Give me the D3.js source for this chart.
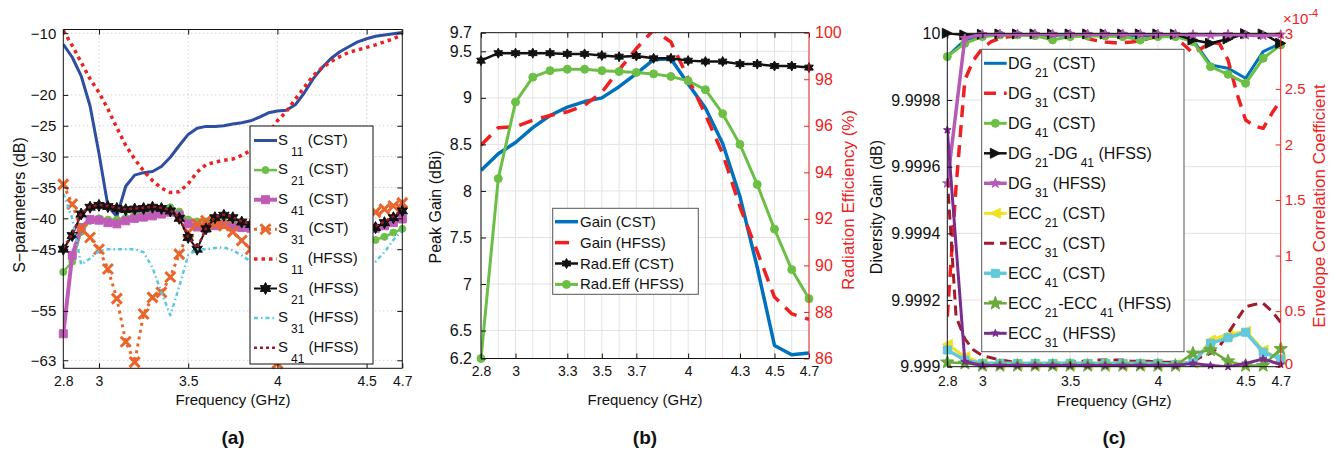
<!DOCTYPE html>
<html>
<head>
<meta charset="utf-8">
<script src="https://cdn.jsdelivr.net/npm/d3@7"></script>
<style>
body { margin: 0; background: #fff; }
svg { font-family: "Liberation Sans", Arial, sans-serif; }
</style>
</head>
<body>
<script>
//Frequency grids (GHz)
var freqA = [2.8, 2.85, 2.9, 2.95, 3.0, 3.05, 3.1, 3.15, 3.2, 3.25, 3.3, 3.35, 3.4, 3.45, 3.5, 3.55, 3.6, 3.65, 3.7, 3.75,
             3.8, 3.85, 3.9, 3.95, 4.0, 4.05, 4.1, 4.15, 4.2, 4.25, 4.3, 4.35, 4.4, 4.45, 4.5, 4.55, 4.6, 4.65, 4.7];
var freqB = [2.8, 2.9, 3.0, 3.1, 3.2, 3.3, 3.4, 3.5, 3.6, 3.7, 3.8, 3.9, 4.0, 4.1, 4.2, 4.3, 4.4, 4.5, 4.6, 4.7];

//(a) S-parameters (dB), on freqA
var s11Cst = [-11.8, -13.9, -16.9, -21.8, -29.5, -38.0, -39.7, -34.8, -33.0, -32.6, -32.4, -31.6, -30.1, -28.2, -26.4, -25.4, -25.1, -25.1, -25.0, -24.7,
              -24.5, -24.2, -23.6, -22.9, -22.6, -22.5, -21.6, -19.7, -17.4, -15.6, -14.1, -13.0, -12.2, -11.4, -10.9, -10.5, -10.3, -10.1, -9.9];
var s21Cst = [-48.7, -47.0, -42.2, -40.4, -40.0, -40.2, -40.2, -39.9, -39.5, -39.2, -38.9, -38.6, -38.2, -38.9, -40.2, -40.5, -40.5, -40.6, -40.6, -40.7,
              -40.8, -41.0, -41.3, -41.6, -41.9, -42.2, -42.4, -42.6, -42.8, -43.0, -43.2, -43.4, -43.6, -43.7, -43.7, -43.5, -43.0, -42.3, -41.7];
var s41Cst = [-58.7, -46.0, -41.5, -40.2, -40.3, -40.7, -40.9, -40.4, -40.0, -39.8, -39.6, -39.3, -39.0, -39.5, -40.9, -41.4, -41.6, -41.2, -41.0, -41.4,
              -41.5, -41.6, -41.7, -41.8, -41.9, -42.0, -42.0, -42.0, -42.0, -41.9, -41.8, -41.8, -41.8, -41.8, -41.7, -41.6, -41.2, -40.7, -40.1];
var s31Cst = [-34.5, -37.7, -41.7, -43.1, -45.0, -48.2, -53.0, -60.0, -63.3, -55.5, -52.8, -52.0, -49.5, -45.8, -42.3, -40.9, -40.4, -40.9, -41.2, -42.2,
              -43.6, -45.0, -48.0, -55.0, -63.5, -57.0, -52.0, -48.0, -45.0, -43.0, -41.5, -40.5, -40.0, -39.5, -39.3, -39.0, -38.5, -38.0, -37.5];
var s11Hfss = [-9.6, -12.0, -14.7, -17.4, -19.6, -22.3, -25.3, -28.2, -30.4, -32.3, -33.9, -35.1, -35.8, -35.7, -34.4, -32.5, -31.3, -30.9, -30.6, -30.4,
               -29.8, -29.0, -28.0, -26.3, -24.2, -22.7, -20.7, -18.8, -16.9, -15.6, -14.6, -13.8, -13.1, -12.7, -12.3, -11.9, -11.4, -10.9, -10.2];
var s21Hfss = [-45.0, -42.8, -39.3, -38.2, -37.9, -38.1, -38.4, -38.6, -38.5, -38.4, -38.2, -38.4, -38.8, -40.0, -43.1, -45.0, -41.7, -39.9, -39.5, -39.9,
               -40.6, -41.0, -41.3, -41.5, -41.7, -41.8, -41.9, -42.0, -42.0, -42.0, -42.0, -41.9, -41.8, -41.7, -41.6, -41.5, -40.7, -39.9, -38.8];
var s31Hfss = [-36.0, -40.0, -47.5, -46.5, -45.3, -45.0, -45.0, -45.0, -45.0, -45.5, -48.0, -52.0, -55.7, -51.0, -46.0, -45.0, -45.0, -44.8, -44.7, -45.2,
               -46.0, -47.0, -47.5, -47.8, -48.0, -48.2, -48.3, -48.3, -48.3, -48.2, -48.2, -48.1, -48.0, -48.0, -47.8, -47.0, -45.5, -43.5, -42.0];
var s41Hfss = [-44.8, -42.6, -39.2, -38.1, -37.8, -38.0, -38.3, -38.5, -38.4, -38.3, -38.1, -38.3, -38.7, -39.9, -43.0, -44.8, -41.6, -39.8, -39.4, -39.8,
               -40.5, -40.9, -41.2, -41.4, -41.6, -41.7, -41.8, -41.9, -41.9, -41.9, -41.9, -41.8, -41.7, -41.6, -41.5, -41.3, -40.5, -39.7, -38.6];
var ticksA = [-63, -55, -45, -40, -35, -30, -25, -20, -10];
var xticksA = [2.8, 3, 3.5, 4, 4.5, 4.7];

//(b) peak gain (dBi) and radiation efficiency (%), on freqB
var gainCst = [8.22, 8.40, 8.52, 8.68, 8.81, 8.90, 8.96, 9.00, 9.12, 9.26, 9.41, 9.42, 9.15, 8.89, 8.51, 7.94, 7.18, 6.34, 6.24, 6.26];
var gainHfss = [8.49, 8.68, 8.69, 8.76, 8.81, 8.85, 8.92, 9.06, 9.30, 9.53, 9.73, 9.60, 9.21, 8.82, 8.40, 7.83, 7.35, 6.86, 6.68, 6.62];
var radEffCst = [98.8, 99.12, 99.12, 99.12, 99.12, 99.09, 99.09, 99.02, 98.97, 99.0, 98.9, 98.9, 98.8, 98.76, 98.76, 98.65, 98.65, 98.57, 98.57, 98.5];
var radEffHfss = [86.0, 93.73, 97.02, 98.09, 98.37, 98.43, 98.43, 98.37, 98.33, 98.29, 98.23, 98.12, 97.93, 97.55, 96.52, 95.2, 93.48, 91.56, 89.82, 88.57];
var ticksGain = [6.2, 6.5, 7, 7.5, 8, 8.5, 9, 9.5, 9.7];
var ticksEff = [86, 88, 90, 92, 94, 96, 98, 100];
var xticksB = [2.8, 3, 3.3, 3.5, 3.7, 4, 4.3, 4.5, 4.7];

//(c) diversity gain (dB) on freqB, except DG31/ECC31 CST on freqA; ECC in units of 1e-4
var dg21Cst = [9.99993, 9.99998, 9.999992, 9.999995, 9.999995, 9.999995, 9.999994, 9.999995, 9.999995, 9.999995,
               9.999995, 9.999993, 9.999993, 9.999992, 9.99998, 9.999905, 9.999895, 9.999865, 9.999945, 9.99997];
var dg31Cst = [9.99915, 9.99954, 9.99986, 9.99992, 9.999955, 9.999975, 9.999985, 9.99999, 9.999992, 9.999994, 9.999995, 9.999995, 9.999995,
               9.999995, 9.999994, 9.99999, 9.999984, 9.999978, 9.999974, 9.999972, 9.999972, 9.999974, 9.999978, 9.999985, 9.999992, 9.999994,
               9.999988, 9.999965, 9.99994, 9.999955, 9.999972, 9.99997, 9.99992, 9.99982, 9.99974, 9.999722, 9.999715, 9.99976, 9.9998];
var dg41Cst = [9.99993, 9.99997, 9.99999, 9.999995, 9.999995, 9.999993, 9.99998, 9.99999, 9.999992, 9.999992,
               9.99999, 9.99998, 9.99999, 9.99999, 9.999975, 9.9999, 9.999877, 9.99985, 9.999925, 9.999965];
var dgDiffHfss = [10.0, 9.999995, 9.999997, 9.999998, 9.999998, 9.999998, 9.999998, 9.999998, 9.999998, 9.999998,
                  9.999998, 9.999998, 9.999998, 9.999997, 9.99998, 9.99997, 9.999983, 9.999999, 9.999998, 9.99997];
var dg31Hfss = [9.99955, 9.999985, 9.999997, 9.999998, 9.999998, 9.999998, 9.999998, 9.999998, 9.999998, 9.999998,
                9.999998, 9.999998, 9.999998, 9.999998, 9.999996, 9.999995, 9.999997, 9.999995, 9.999993, 9.999996];
var ecc21Cst = [0.20, 0.09, 0.03, 0.02, 0.02, 0.02, 0.02, 0.02, 0.02, 0.02, 0.02, 0.02, 0.02, 0.02, 0.03, 0.24, 0.29, 0.32, 0.15, 0.06];
var ecc31Cst = [1.7, 0.45, 0.25, 0.15, 0.10, 0.08, 0.06, 0.05, 0.03, 0.02, 0.02, 0.03, 0.03, 0.03, 0.04, 0.05, 0.05, 0.06, 0.06, 0.06,
                0.06, 0.05, 0.05, 0.05, 0.04, 0.04, 0.04, 0.03, 0.05, 0.09, 0.12, 0.18, 0.30, 0.42, 0.54, 0.56, 0.57, 0.50, 0.40];
var ecc41Cst = [0.15, 0.06, 0.03, 0.03, 0.03, 0.03, 0.03, 0.03, 0.03, 0.03, 0.03, 0.03, 0.03, 0.02, 0.04, 0.21, 0.26, 0.31, 0.13, 0.07];
var eccDiffHfss = [0.04, 0.03, 0.01, 0.01, 0.01, 0.01, 0.01, 0.01, 0.01, 0.01, 0.01, 0.01, 0.01, 0.01, 0.12, 0.15, 0.05, 0.01, 0.01, 0.16];
var ecc31Hfss = [2.13, 0.045, 0.01, 0.01, 0.01, 0.01, 0.01, 0.01, 0.01, 0.01, 0.01, 0.01, 0.01, 0.01, 0.03, 0.01, 0.0, 0.03, 0.07, 0.02];
var ticksDG = [9.999, 9.9992, 9.9994, 9.9996, 9.9998, 10];
var ticksEcc = [0, 0.5, 1, 1.5, 2, 2.5, 3];
var xticksC = [2.8, 3, 3.5, 4, 4.5, 4.7];

var RED = '#ee2222';

var svg = d3.select('body').append('svg')
    .attr('width', 1338)
    .attr('height', 456);

////////////////////////////////////////////
/////////////// helpers ////////////////////
////////////////////////////////////////////
function markerPath(t, r) {
    var p = [], i, a, rr;
    if (t === 'circle') return d3.symbol(d3.symbolCircle, Math.PI * r * r)();
    if (t === 'square') return 'M' + (-r) + ',' + (-r) + 'h' + 2 * r + 'v' + 2 * r + 'h' + (-2 * r) + 'Z';
    if (t === 'x') return 'M' + (-r) + ',' + (-r) + 'L' + r + ',' + r + 'M' + (-r) + ',' + r + 'L' + r + ',' + (-r);
    if (t === 'triL') return 'M' + (-r) + ',0L' + r + ',' + (-r) + 'L' + r + ',' + r + 'Z';
    if (t === 'triR') return 'M' + r + ',0L' + (-r) + ',' + (-r) + 'L' + (-r) + ',' + r + 'Z';
    var n = t === 'hex' ? 6 : 5, inner = t === 'hex' ? 0.55 : 0.42;
    for (i = 0; i < 2 * n; i++) {
        a = Math.PI / n * i - Math.PI / 2;
        rr = i % 2 ? r * inner : r;
        p.push((rr * Math.cos(a)).toFixed(2) + ',' + (rr * Math.sin(a)).toFixed(2));
    }
    return 'M' + p.join('L') + 'Z';
}

function drawMarkers(g, pts, st) {
    g.selectAll(null).data(pts).enter().append('path')
        .attr('transform', function(d) { return 'translate(' + d[0] + ',' + d[1] + ')'; })
        .attr('d', markerPath(st.marker, st.ms))
        .attr('fill', st.marker === 'x' ? 'none' : st.color)
        .attr('stroke', st.color)
        .attr('stroke-width', st.marker === 'x' ? 3 : 1);
}

function plotSeries(p, xs, ys, st, yScale) {
    var ysc = yScale || p.y;
    var pts = xs.map(function(f, i) { return [p.x(f), ysc(ys[i])]; });
    p.g.append('path')
        .attr('clip-path', p.clip)
        .attr('d', d3.line()(pts))
        .attr('fill', 'none')
        .attr('stroke', st.color)
        .attr('stroke-width', st.w)
        .attr('stroke-dasharray', st.dash || null)
        .attr('stroke-linejoin', 'round');
    if (st.marker) drawMarkers(p.g, pts, st);
}

function makePanel(id, box, xDom, yDom) {
    var g = svg.append('g');
    g.append('clipPath').attr('id', 'clip' + id).append('rect')
        .attr('x', box.l).attr('y', box.t)
        .attr('width', box.r - box.l).attr('height', box.b - box.t);
    return {
        g: g, box: box, clip: 'url(#clip' + id + ')',
        x: d3.scaleLinear().domain(xDom).range([box.l, box.r]),
        y: d3.scaleLinear().domain(yDom).range([box.b, box.t])
    };
}

function grid(p, xv, yv, color, dash) {
    var gg = p.g.append('g').attr('stroke', color).attr('stroke-width', 1).attr('stroke-dasharray', dash || null);
    gg.selectAll(null).data(xv).enter().append('line')
        .attr('x1', function(d) { return p.x(d); }).attr('x2', function(d) { return p.x(d); })
        .attr('y1', p.box.t).attr('y2', p.box.b);
    gg.selectAll(null).data(yv).enter().append('line')
        .attr('y1', function(d) { return p.y(d); }).attr('y2', function(d) { return p.y(d); })
        .attr('x1', p.box.l).attr('x2', p.box.r);
}

function styleAxis(sel, color, fs) {
    sel.select('.domain').remove();
    sel.selectAll('.tick line').attr('stroke', color);
    sel.selectAll('.tick text').attr('fill', color).attr('font-size', fs)
        .attr('font-family', '"Liberation Sans", Arial, sans-serif');
}

function axes(p, o) {
    var b = p.box, fmt = o.fmt || function(d) { return String(d); };
    var xa = p.g.append('g').attr('transform', 'translate(0,' + b.b + ')')
        .call(d3.axisBottom(p.x).tickValues(o.xt).tickSize(-5).tickSizeOuter(0).tickPadding(o.xpad || 8)
            .tickFormat(function(d) { return String(d); }));
    styleAxis(xa, '#111', o.xfs);
    var xt = p.g.append('g').attr('transform', 'translate(0,' + b.t + ')')
        .call(d3.axisTop(p.x).tickValues(o.xt).tickSize(-5).tickSizeOuter(0).tickFormat(''));
    styleAxis(xt, '#111', o.xfs);
    var ya = p.g.append('g').attr('transform', 'translate(' + b.l + ',0)')
        .call(d3.axisLeft(p.y).tickValues(o.yt).tickSize(-5).tickSizeOuter(0).tickPadding(o.ypad || 7).tickFormat(fmt));
    styleAxis(ya, '#111', o.yfs);
    var rc = o.y2 ? RED : '#111';
    var ra = p.g.append('g').attr('transform', 'translate(' + b.r + ',0)');
    if (o.y2) {
        ra.call(d3.axisRight(o.y2).tickValues(o.y2t).tickSize(-5).tickSizeOuter(0).tickPadding(o.y2pad || 6)
            .tickFormat(function(d) { return String(d); }));
    } else {
        ra.call(d3.axisRight(p.y).tickValues(o.yt).tickSize(-5).tickSizeOuter(0).tickFormat(''));
    }
    styleAxis(ra, rc, o.y2fs || o.yfs);
    var fr = p.g.append('g').attr('fill', 'none').attr('stroke-width', 1);
    fr.append('path').attr('stroke', '#111')
        .attr('d', 'M' + b.r + ',' + b.t + 'H' + b.l + 'V' + b.b + 'H' + b.r);
    fr.append('path').attr('stroke', rc).attr('d', 'M' + b.r + ',' + b.t + 'V' + b.b);
    return ra;
}

function vLabel(x, y, txt, fs, color) {
    svg.append('text')
        .attr('transform', 'translate(' + x + ',' + y + ') rotate(-90)')
        .attr('text-anchor', 'middle')
        .attr('font-size', fs)
        .attr('fill', color || '#111')
        .text(txt);
}

function hLabel(x, y, txt, fs, bold) {
    svg.append('text')
        .attr('x', x).attr('y', y)
        .attr('text-anchor', 'middle')
        .attr('font-size', fs)
        .attr('font-weight', bold ? 'bold' : null)
        .attr('fill', '#111')
        .text(txt);
}

//label markup: "DG_{21} (CST)" puts 21 as subscript
function legend(box, rows, items, o) {
    var g = svg.append('g');
    g.append('rect')
        .attr('x', box.l).attr('y', box.t)
        .attr('width', box.r - box.l).attr('height', box.b - box.t)
        .attr('fill', '#fff').attr('stroke', o.border).attr('stroke-width', 1);
    items.forEach(function(it, k) {
        var yy = rows.y0 + k * rows.dy, st = it.st;
        g.append('line')
            .attr('x1', o.sx1).attr('x2', o.sx2).attr('y1', yy).attr('y2', yy)
            .attr('stroke', st.color).attr('stroke-width', st.w)
            .attr('stroke-dasharray', st.dash || null);
        if (st.marker) drawMarkers(g, [[(o.sx1 + o.sx2) / 2, yy]], st);
        var t = g.append('text').attr('x', o.tx).attr('y', yy + o.base)
            .attr('font-size', o.fs).attr('fill', '#111');
        var parts = it.label.split(/_\{([^}]*)\}/);
        parts.forEach(function(s, i) {
            if (!s) return;
            var sub = i % 2 === 1;
            t.append('tspan').text(s)
                .attr('font-size', sub ? o.subFs : o.fs)
                .attr('dx', sub ? 3 : 0)
                .attr('dy', sub ? o.subDy : (i > 0 ? -o.subDy : 0));
        });
    });
}

////////////////////////////////////////////
/////////////// panel (a) //////////////////
////////////////////////////////////////////
var stA = {
    s11Cst: { color: '#2f4ea0', w: 3 },
    s21Cst: { color: '#6cc04a', w: 2.5, marker: 'circle', ms: 3.5 },
    s41Cst: { color: '#c05cb8', w: 4, marker: 'square', ms: 4 },
    s31Cst: { color: '#e8662c', w: 3, dash: '3,4', marker: 'x', ms: 5 },
    s11Hfss: { color: '#ee2020', w: 3.5, dash: '3.5,4' },
    s21Hfss: { color: '#111', w: 2, marker: 'hex', ms: 6 },
    s31Hfss: { color: '#5cc8e0', w: 2.5, dash: '4,3,1.5,3' },
    s41Hfss: { color: '#9e1a2e', w: 2.5, dash: '3,3' }
};
var pa = makePanel('a', { l: 63.3, r: 402.3, t: 29.5, b: 368.3 }, [2.8, 4.7], [-64.3, -9.4]);
grid(pa, [3, 3.5, 4, 4.5], ticksA, '#bdbdbd', '1,3');
plotSeries(pa, freqA, s11Cst, stA.s11Cst);
plotSeries(pa, freqA, s21Cst, stA.s21Cst);
plotSeries(pa, freqA, s41Cst, stA.s41Cst);
plotSeries(pa, freqA, s31Cst, stA.s31Cst);
plotSeries(pa, freqA, s11Hfss, stA.s11Hfss);
plotSeries(pa, freqA, s21Hfss, stA.s21Hfss);
plotSeries(pa, freqA, s31Hfss, stA.s31Hfss);
plotSeries(pa, freqA, s41Hfss, stA.s41Hfss);
axes(pa, { xt: xticksA, yt: ticksA, xfs: 14, yfs: 15, fmt: function(d) { return String(d).replace('-', '\u2212'); } });
legend({ l: 250, r: 373, t: 126, b: 364 }, { y0: 140.5, dy: 29.6 }, [
    { label: 'S_{11} (CST)', st: stA.s11Cst },
    { label: 'S_{21} (CST)', st: stA.s21Cst },
    { label: 'S_{41} (CST)', st: stA.s41Cst },
    { label: 'S_{31} (CST)', st: stA.s31Cst },
    { label: 'S_{11} (HFSS)', st: stA.s11Hfss },
    { label: 'S_{21} (HFSS)', st: stA.s21Hfss },
    { label: 'S_{31} (HFSS)', st: stA.s31Hfss },
    { label: 'S_{41} (HFSS)', st: stA.s41Hfss }
], { border: '#111', sx1: 254, sx2: 277, tx: 278, base: 4, fs: 15, subFs: 12, subDy: 11 });
vLabel(25, 205, 'S\u2212parameters (dB)', 16);
hLabel(233, 405, 'Frequency (GHz)', 15);
hLabel(233, 444, '(a)', 19, true);

////////////////////////////////////////////
/////////////// panel (b) //////////////////
////////////////////////////////////////////
var stB = {
    gainCst: { color: '#0072bd', w: 3.5 },
    gainHfss: { color: '#ee2020', w: 3.5, dash: '14,9' },
    radEffCst: { color: '#111', w: 2.5, marker: 'hex', ms: 5 },
    radEffHfss: { color: '#6cbf45', w: 3, marker: 'circle', ms: 4 }
};
var pb = makePanel('b', { l: 481, r: 809, t: 32.7, b: 358.5 }, [2.8, 4.7], [6.2, 9.7]);
var effY = d3.scaleLinear().domain([86, 100]).range([358.5, 32.7]);
grid(pb, freqB, ticksGain.slice(1, -1), '#e3e3e3');
plotSeries(pb, freqB, gainCst, stB.gainCst);
plotSeries(pb, freqB, gainHfss, stB.gainHfss);
plotSeries(pb, freqB, radEffCst, stB.radEffCst, effY);
plotSeries(pb, freqB, radEffHfss, stB.radEffHfss, effY);
axes(pb, { xt: xticksB, yt: ticksGain, xfs: 14, yfs: 16, ypad: 9, y2: effY, y2t: ticksEff, y2pad: 6 });
legend({ l: 552.7, r: 698.3, t: 208.3, b: 294.3 }, { y0: 221.7, dy: 20.9 }, [
    { label: 'Gain (CST)', st: stB.gainCst },
    { label: 'Gain (HFSS)', st: stB.gainHfss },
    { label: 'Rad.Eff (CST)', st: stB.radEffCst },
    { label: 'Rad.Eff (HFSS)', st: stB.radEffHfss }
], { border: '#555', sx1: 555, sx2: 578, tx: 580, base: 5, fs: 15, subFs: 12, subDy: 8 });
vLabel(441, 207, 'Peak Gain (dBi)', 16);
vLabel(854, 200, 'Radiation Efficiency (%)', 17, RED);
hLabel(645, 405, 'Frequency (GHz)', 15);
hLabel(645, 444, '(b)', 19, true);

////////////////////////////////////////////
/////////////// panel (c) //////////////////
////////////////////////////////////////////
var stC = {
    dg21Cst: { color: '#0072bd', w: 3 },
    dg31Cst: { color: '#ee2020', w: 3.5, dash: '12,8' },
    dg41Cst: { color: '#6cbf45', w: 3, marker: 'circle', ms: 4 },
    dgDiffHfss: { color: '#111', w: 2.5, marker: 'triR', ms: 5 },
    dg31Hfss: { color: '#b45cb4', w: 3.5, marker: 'star', ms: 5 },
    ecc21Cst: { color: '#f0e020', w: 3, marker: 'triL', ms: 5 },
    ecc31Cst: { color: '#a01c2c', w: 3, dash: '10,6' },
    ecc41Cst: { color: '#62c8dc', w: 3.5, marker: 'square', ms: 4 },
    eccDiffHfss: { color: '#6aaa3c', w: 2.5, marker: 'star', ms: 7 },
    ecc31Hfss: { color: '#7b2d8e', w: 3, marker: 'star', ms: 4 }
};
var pc = makePanel('c', { l: 947.3, r: 1280.7, t: 33.3, b: 366.7 }, [2.8, 4.7], [9.999, 10]);
var eccY = d3.scaleLinear().domain([0, 3]).range([366.7, 33.3]);
grid(pc, [3, 3.5, 4, 4.5], ticksDG.slice(1, -1), '#e3e3e3');
plotSeries(pc, freqB, dg21Cst, stC.dg21Cst);
plotSeries(pc, freqA, dg31Cst, stC.dg31Cst);
plotSeries(pc, freqB, dg41Cst, stC.dg41Cst);
plotSeries(pc, freqB, dgDiffHfss, stC.dgDiffHfss);
plotSeries(pc, freqB, dg31Hfss, stC.dg31Hfss);
plotSeries(pc, freqB, ecc21Cst, stC.ecc21Cst, eccY);
plotSeries(pc, freqA, ecc31Cst, stC.ecc31Cst, eccY);
plotSeries(pc, freqB, ecc41Cst, stC.ecc41Cst, eccY);
plotSeries(pc, freqB, eccDiffHfss, stC.eccDiffHfss, eccY);
plotSeries(pc, freqB, ecc31Hfss, stC.ecc31Hfss, eccY);
var raC = axes(pc, { xt: xticksC, yt: ticksDG, xfs: 14, xpad: 9, yfs: 16, y2fs: 15, ypad: 7, y2: eccY, y2t: ticksEcc, y2pad: 4 });
//lift the bottom "0" a little so it clears the 4.7 label
raC.selectAll('.tick text').filter(function(d) { return d === 0; }).attr('dy', '0.1em');
legend({ l: 981.7, r: 1184, t: 49.3, b: 351.7 }, { y0: 63.3, dy: 30 }, [
    { label: 'DG_{21} (CST)', st: stC.dg21Cst },
    { label: 'DG_{31} (CST)', st: stC.dg31Cst },
    { label: 'DG_{41} (CST)', st: stC.dg41Cst },
    { label: 'DG_{21}-DG_{41} (HFSS)', st: stC.dgDiffHfss },
    { label: 'DG_{31} (HFSS)', st: stC.dg31Hfss },
    { label: 'ECC_{21} (CST)', st: stC.ecc21Cst },
    { label: 'ECC_{31} (CST)', st: stC.ecc31Cst },
    { label: 'ECC_{41} (CST)', st: stC.ecc41Cst },
    { label: 'ECC_{21}-ECC_{41} (HFSS)', st: stC.eccDiffHfss },
    { label: 'ECC_{31} (HFSS)', st: stC.ecc31Hfss }
], { border: '#555', sx1: 984, sx2: 1006.7, tx: 1008, base: 6, fs: 16, subFs: 12, subDy: 7.5 });
vLabel(882, 207, 'Diversity Gain (dB)', 16);
vLabel(1325, 206, 'Envelope Correlation Coefficient', 17, RED);
var ex = svg.append('text').attr('x', 1283).attr('y', 24).attr('font-size', 15).attr('fill', RED);
ex.append('tspan').text('\u00d710');
ex.append('tspan').text('-4').attr('font-size', 11).attr('dy', -7);
hLabel(1114, 406, 'Frequency (GHz)', 15);
hLabel(1114, 444, '(c)', 19, true);
</script>
</body>
</html>
